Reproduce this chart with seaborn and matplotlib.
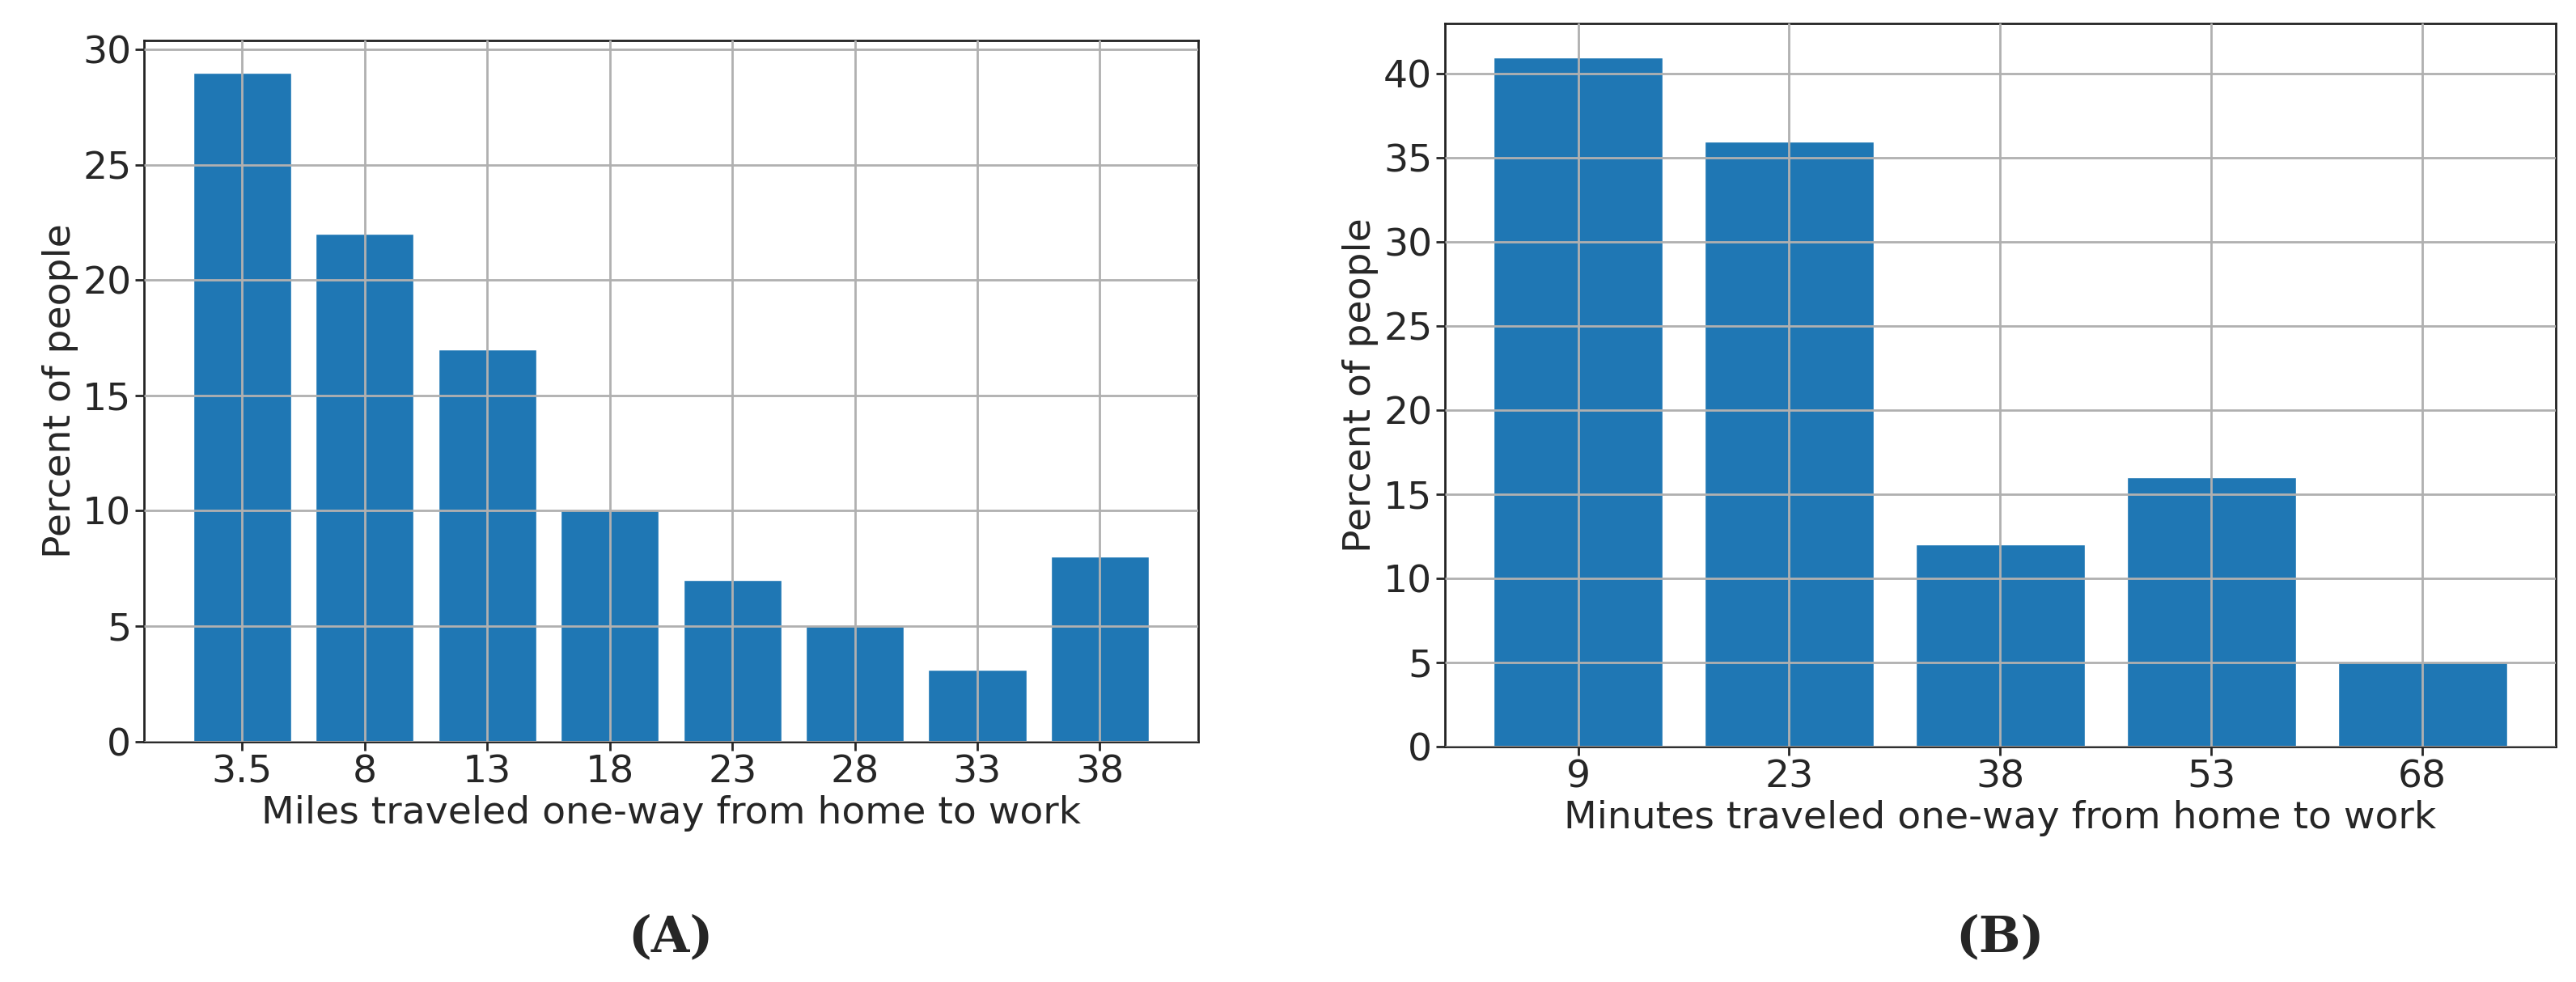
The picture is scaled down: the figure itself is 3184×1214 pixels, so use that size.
import pandas as pd
import matplotlib.pyplot as plt
import seaborn as sns

# --- Data ---
miles = ['3.5', '8', '13', '18', '23', '28', '33', '38']
miles_pct = [29, 22, 17, 10, 7, 5, 3.1, 8]
minutes = ['9', '23', '38', '53', '68']
minutes_pct = [41, 36, 12, 16, 5]

df_a = pd.DataFrame({'x': miles, 'y': miles_pct})
df_b = pd.DataFrame({'x': minutes, 'y': minutes_pct})

sns.set_style('white')
plt.rcParams['font.family'] = ['DejaVu Sans']

fig = plt.figure(figsize=(31.84, 12.14), dpi=100)
ax_a = fig.add_axes([0.056, 0.245, 0.409, 0.714])
ax_b = fig.add_axes([0.561, 0.240, 0.431, 0.736])

panels = [
    (ax_a, df_a, miles, 'Miles traveled one-way from home to work', (-0.8, 7.8), 30.4, '(A)'),
    (ax_b, df_b, minutes, 'Minutes traveled one-way from home to work', (-0.63, 4.63), 43.0, '(B)'),
]

for ax, d, order, xlabel, xlim, ytop, tag in panels:
    sns.barplot(data=d, x='x', y='y', order=order, color='#1f77b4', saturation=1,
                width=0.8, ax=ax)
    ax.set_xlim(*xlim)
    ax.set_ylim(0, ytop)
    ax.grid(True, color='#b0b0b0', linewidth=2)
    ax.set_axisbelow(False)
    ax.set_xlabel(xlabel, fontsize=34)
    ax.set_ylabel('Percent of people', fontsize=34)
    ax.tick_params(labelsize=34, length=8, width=2, left=True, bottom=True)
    for s in ax.spines.values():
        s.set_color('#222222')
        s.set_linewidth(2)
    pos = ax.get_position()
    fig.text((pos.x0 + pos.x1) / 2, 0.045, tag, ha='center', va='center',
             fontsize=44, fontweight='bold', family='DejaVu Serif')

fig.savefig('out.png', dpi=100)
